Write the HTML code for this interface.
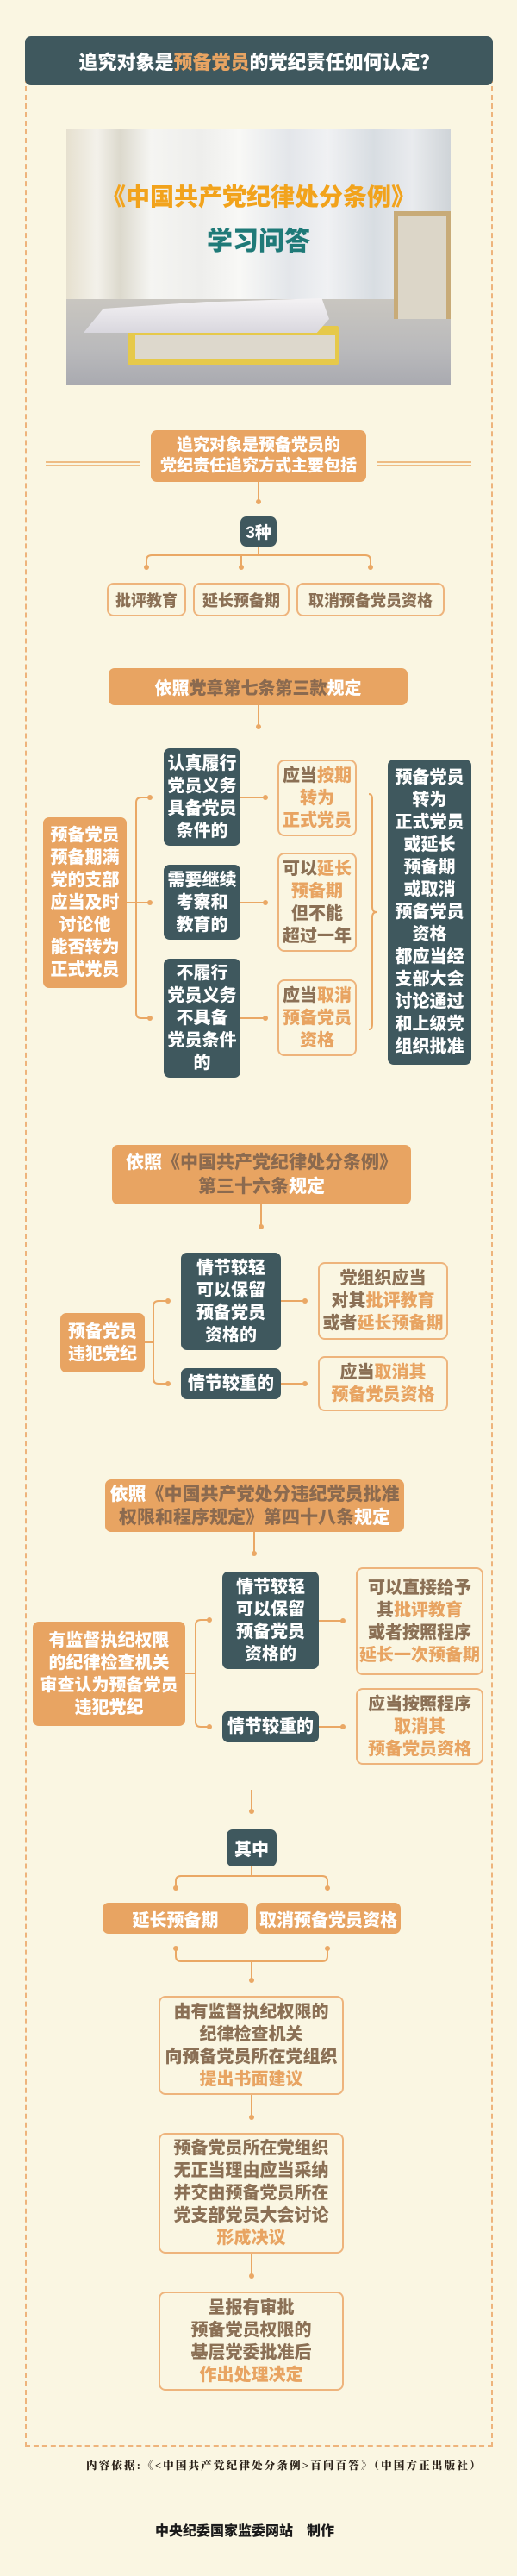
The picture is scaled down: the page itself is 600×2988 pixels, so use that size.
<!DOCTYPE html>
<html><head><meta charset="utf-8">
<style>
*{margin:0;padding:0;box-sizing:border-box}
body{width:600px;height:2988px;background:#faf6e2;position:relative;overflow:hidden;font-family:"Liberation Sans","Noto Sans CJK SC",sans-serif;font-weight:900}
.a{position:absolute}
.c{display:flex;align-items:center;justify-content:center;text-align:center}
.dk{background:#3f585e;color:#fff;border-radius:7px}
.or{background:#e8a462;color:#fff;border-radius:7px}
.ol{border:2px solid #eeb47c;border-radius:8px;color:#8b7055}
.t{font-size:20px;line-height:26px}
.o{color:#e8a462}
.b{color:#8b6a4f}
</style></head><body>
<!-- dashed frame -->
<div class="a" style="left:29px;top:80px;width:543px;height:2758px;border:2px dashed #eeb47c;border-top:none"></div>
<div class="a c" style="left:29px;top:42px;width:543px;height:57px;background:#3f585e;border-radius:7px;color:#fff;font-size:22px"><span>追究对象是<span class="o">预备党员</span>的党纪责任如何认定？</span></div>

<!-- image -->
<div class="a" style="left:77px;top:150px;width:446px;height:297px;overflow:hidden;background:linear-gradient(90deg,#e6e0cf 0%,#f3f1ea 8%,#dcd9cd 14%,#f5f5f2 22%,#eeeeec 35%,#f8f8f6 45%,#e3e6ea 58%,#f0f1f3 68%,#d8dde2 80%,#e9ebee 90%,#cfd4d8 100%)">
 <div class="a" style="left:0;top:197px;width:446px;height:100px;background:linear-gradient(180deg,#c9c6c0,#b9b9bb 60%,#a9aab0)"></div>
 <div class="a" style="left:380px;top:95px;width:66px;height:125px;border:5px solid #c8ab78;border-bottom:none;background:#dcd6c8"></div>
 <div class="a" style="left:71px;top:228px;width:245px;height:45px;background:#e6c94a;border-radius:2px"></div>
 <div class="a" style="left:80px;top:238px;width:232px;height:28px;background:#ddd8cc"></div>
 <div class="a" style="left:20px;top:196px;width:285px;height:40px;background:linear-gradient(180deg,#f4f2f4,#d9d7de);clip-path:polygon(8% 30%,50% 10%,55% 10%,97% 0,100% 60%,95% 100%,0 100%)"></div>
 <div class="a" style="left:0;top:62px;width:446px;text-align:center;color:#f2a31c;font-size:28px;line-height:34px">《中国共产党纪律处分条例》</div>
 <div class="a" style="left:0;top:113px;width:446px;text-align:center;color:#1f7a78;font-size:30px;line-height:36px">学习问答</div>
</div>

<svg class="a" style="left:0;top:0" width="600" height="2988" fill="none" stroke="#eaa865" stroke-width="2">
 <g stroke-width="1.5"><line x1="53" y1="536" x2="162" y2="536"/><line x1="53" y1="540" x2="162" y2="540"/><line x1="438" y1="536" x2="547" y2="536"/><line x1="438" y1="540" x2="547" y2="540"/></g>
 <line x1="300" y1="559" x2="300" y2="580"/>
 <line x1="300" y1="634" x2="300" y2="644"/>
 <path d="M170 656 V650 Q170 644 176 644 H424 Q430 644 430 650 V656"/>
 <line x1="280" y1="644" x2="280" y2="656"/>
 <line x1="300" y1="818" x2="300" y2="841"/>
 <path d="M147 1047 H158 M172 925 H164 Q158 925 158 931 V1175 Q158 1181 164 1181 H172 M158 1047 H172"/>
 <path d="M279 925 H306 M279 1047 H306 M279 1181 H306"/>
 <path d="M428 921 Q432 921 432 927 V1052 Q432 1058 437 1058 Q432 1058 432 1064 V1188 Q432 1194 428 1194"/>
 <line x1="303" y1="1397" x2="303" y2="1421"/>
 <path d="M168 1557 H178 M193 1509 H184 Q178 1509 178 1515 V1599 Q178 1605 184 1605 H193"/>
 <path d="M326 1509 H352 M326 1605 H352"/>
 <line x1="295" y1="1777" x2="295" y2="1800"/>
 <path d="M215 1941 H227 M241 1879 H233 Q227 1879 227 1885 V1997 Q227 2003 233 2003 H241"/>
 <path d="M370 1880 H396 M370 2003 H396"/>
 <line x1="292" y1="2076" x2="292" y2="2099"/>
 <line x1="292" y1="2165" x2="292" y2="2176"/>
 <path d="M204 2188 V2182 Q204 2176 210 2176 H374 Q380 2176 380 2182 V2188"/>
 <path d="M204 2262 V2269 Q204 2275 210 2275 H374 Q380 2275 380 2269 V2262 M292 2275 V2295"/>
 <line x1="292" y1="2430" x2="292" y2="2454"/>
 <line x1="292" y1="2614" x2="292" y2="2638"/>
 <g fill="#eaa865" stroke="none">
  <circle cx="300" cy="582" r="3"/><circle cx="170" cy="658" r="3"/><circle cx="280" cy="658" r="3"/><circle cx="430" cy="658" r="3"/>
  <circle cx="300" cy="843" r="3"/><circle cx="174" cy="925" r="3"/><circle cx="174" cy="1047" r="3"/><circle cx="174" cy="1181" r="3"/>
  <circle cx="308" cy="925" r="3"/><circle cx="308" cy="1047" r="3"/><circle cx="308" cy="1181" r="3"/>
  <circle cx="303" cy="1423" r="3"/><circle cx="195" cy="1509" r="3"/><circle cx="195" cy="1605" r="3"/><circle cx="354" cy="1509" r="3"/><circle cx="354" cy="1605" r="3"/>
  <circle cx="295" cy="1802" r="3"/><circle cx="243" cy="1879" r="3"/><circle cx="243" cy="2003" r="3"/><circle cx="398" cy="1880" r="3"/><circle cx="398" cy="2003" r="3"/>
  <circle cx="292" cy="2101" r="3"/><circle cx="204" cy="2190" r="3"/><circle cx="380" cy="2190" r="3"/><circle cx="204" cy="2260" r="3"/><circle cx="380" cy="2260" r="3"/>
  <circle cx="292" cy="2297" r="3"/><circle cx="292" cy="2456" r="3"/><circle cx="292" cy="2640" r="3"/>
 </g>
</svg>

<!-- section 0 -->
<div class="a c or t" style="left:175px;top:499px;width:250px;height:60px;font-size:19px;line-height:24px"><span>追究对象是预备党员的<br>党纪责任追究方式主要包括</span></div>
<div class="a c dk" style="left:279px;top:599px;width:42px;height:35px;font-size:19px">3种</div>
<div class="a c ol" style="left:124px;top:676px;width:92px;height:39px;font-size:18px">批评教育</div>
<div class="a c ol" style="left:224px;top:676px;width:112px;height:39px;font-size:18px">延长预备期</div>
<div class="a c ol" style="left:344px;top:676px;width:172px;height:39px;font-size:18px">取消预备党员资格</div>

<!-- section 1 -->
<div class="a c or" style="left:126px;top:775px;width:347px;height:43px;font-size:20px"><span>依照<span class="b">党章第七条第三款</span>规定</span></div>
<div class="a c or t" style="left:50px;top:948px;width:97px;height:198px"><span>预备党员<br>预备期满<br>党的支部<br>应当及时<br>讨论他<br>能否转为<br>正式党员</span></div>
<div class="a c dk t" style="left:190px;top:868px;width:89px;height:113px"><span>认真履行<br>党员义务<br>具备党员<br>条件的</span></div>
<div class="a c dk t" style="left:190px;top:1003px;width:89px;height:87px"><span>需要继续<br>考察和<br>教育的</span></div>
<div class="a c dk t" style="left:190px;top:1112px;width:89px;height:138px"><span>不履行<br>党员义务<br>不具备<br>党员条件<br>的</span></div>
<div class="a c ol t" style="left:322px;top:881px;width:92px;height:89px"><span>应当<span class="o">按期</span><br><span class="o">转为</span><br><span class="o">正式党员</span></span></div>
<div class="a c ol t" style="left:322px;top:989px;width:92px;height:115px"><span>可以<span class="o">延长</span><br><span class="o">预备期</span><br>但不能<br>超过一年</span></div>
<div class="a c ol t" style="left:322px;top:1136px;width:92px;height:89px"><span>应当<span class="o">取消</span><br><span class="o">预备党员</span><br><span class="o">资格</span></span></div>
<div class="a c dk t" style="left:450px;top:881px;width:97px;height:354px"><span>预备党员<br>转为<br>正式党员<br>或延长<br>预备期<br>或取消<br>预备党员<br>资格<br>都应当经<br>支部大会<br>讨论通过<br>和上级党<br>组织批准</span></div>

<!-- section 2 -->
<div class="a c or t" style="left:130px;top:1328px;width:347px;height:69px;font-size:21px;line-height:28px"><span>依照<span class="b">《中国共产党纪律处分条例》</span><br><span class="b">第三十六条</span>规定</span></div>
<div class="a c or t" style="left:70px;top:1523px;width:98px;height:69px"><span>预备党员<br>违犯党纪</span></div>
<div class="a c dk t" style="left:210px;top:1453px;width:116px;height:113px"><span>情节较轻<br>可以保留<br>预备党员<br>资格的</span></div>
<div class="a c dk t" style="left:210px;top:1587px;width:116px;height:36px">情节较重的</div>
<div class="a c ol t" style="left:369px;top:1464px;width:151px;height:90px"><span>党组织应当<br>对其<span class="o">批评教育</span><br>或者<span class="o">延长预备期</span></span></div>
<div class="a c ol t" style="left:369px;top:1573px;width:151px;height:64px"><span>应当<span class="o">取消其</span><br><span class="o">预备党员资格</span></span></div>

<!-- section 3 -->
<div class="a c or t" style="left:122px;top:1716px;width:347px;height:61px;font-size:21px;line-height:27px"><span>依照<span class="b">《中国共产党处分违纪党员批准<br>权限和程序规定》第四十八条</span>规定</span></div>
<div class="a c or t" style="left:38px;top:1881px;width:177px;height:121px"><span>有监督执纪权限<br>的纪律检查机关<br>审查认为预备党员<br>违犯党纪</span></div>
<div class="a c dk t" style="left:258px;top:1823px;width:112px;height:113px"><span>情节较轻<br>可以保留<br>预备党员<br>资格的</span></div>
<div class="a c dk t" style="left:258px;top:1985px;width:112px;height:36px">情节较重的</div>
<div class="a c ol t" style="left:413px;top:1818px;width:148px;height:125px"><span>可以直接给予<br>其<span class="o">批评教育</span><br>或者按照程序<br><span class="o">延长一次预备期</span></span></div>
<div class="a c ol t" style="left:413px;top:1958px;width:148px;height:89px"><span>应当按照程序<br><span class="o">取消其</span><br><span class="o">预备党员资格</span></span></div>

<!-- section 4 -->
<div class="a c dk" style="left:263px;top:2122px;width:58px;height:43px;font-size:20px">其中</div>
<div class="a c or" style="left:119px;top:2207px;width:169px;height:36px;font-size:20px">延长预备期</div>
<div class="a c or" style="left:297px;top:2207px;width:168px;height:36px;font-size:20px">取消预备党员资格</div>
<div class="a c ol t" style="left:184px;top:2315px;width:215px;height:115px"><span>由有监督执纪权限的<br>纪律检查机关<br>向预备党员所在党组织<br><span class="o">提出书面建议</span></span></div>
<div class="a c ol t" style="left:184px;top:2474px;width:215px;height:140px"><span>预备党员所在党组织<br>无正当理由应当采纳<br>并交由预备党员所在<br>党支部党员大会讨论<br><span class="o">形成决议</span></span></div>
<div class="a c ol t" style="left:184px;top:2658px;width:215px;height:115px"><span>呈报有审批<br>预备党员权限的<br>基层党委批准后<br><span class="o">作出处理决定</span></span></div>

<div class="a" style="left:100px;top:2851px;width:495px;font-size:12.5px;line-height:18px;color:#2a2118;font-family:'Liberation Serif','Noto Serif CJK SC',serif;letter-spacing:2.2px;white-space:nowrap">内容依据:《&lt;中国共产党纪律处分条例&gt;百问百答》（中国方正出版社）</div>
<div class="a" style="left:180px;top:2927px;width:240px;font-size:16px;line-height:20px;color:#1b1b1b;white-space:nowrap">中央纪委国家监委网站　制作</div>
</body></html>
